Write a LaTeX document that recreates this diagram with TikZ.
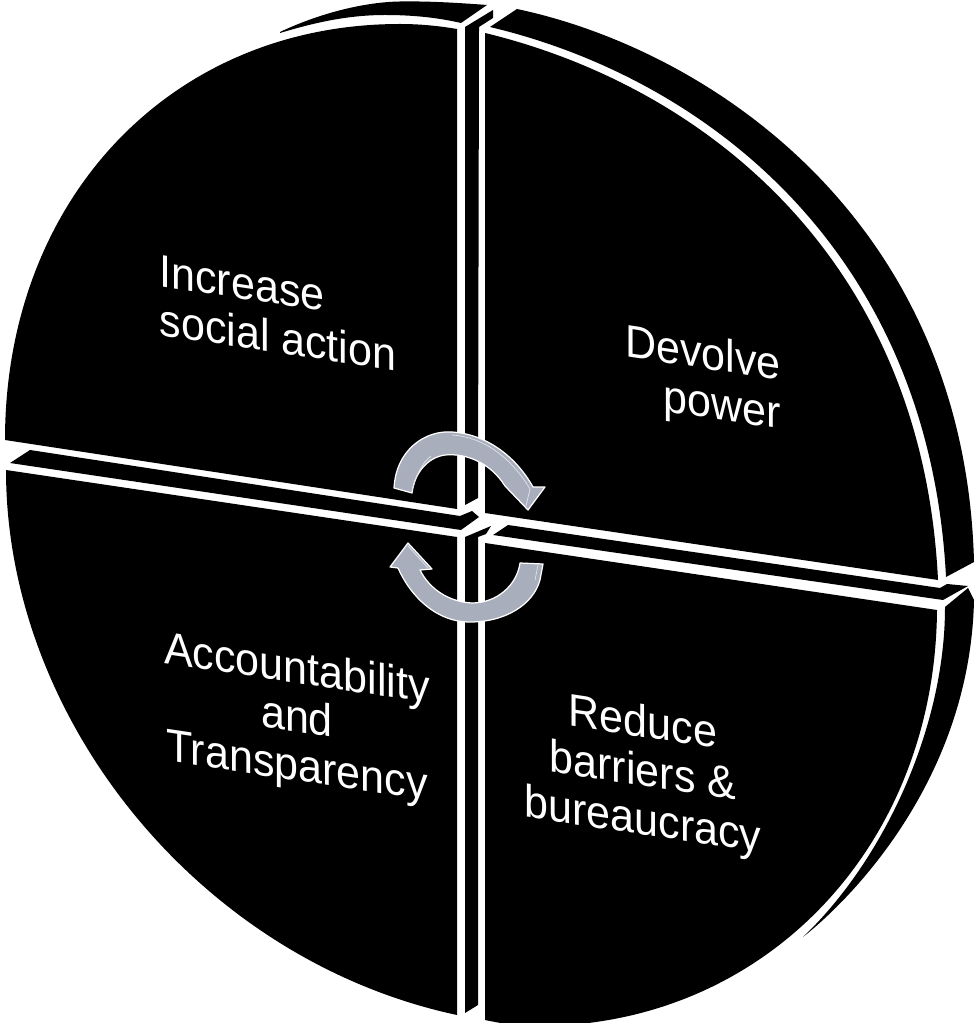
\documentclass[tikz,border=0pt]{standalone}
\usepackage{fontspec}
\setmainfont{Liberation Sans}
\definecolor{arrowgray}{HTML}{A9AEBD}
\tikzset{
  seg/.style={fill=black,draw=none},
  arrowshape/.style={fill=arrowgray,draw=white,line width=0.7pt,line join=round},
  ridge/.style={draw=arrowgray!35!white,line width=0.4pt},
  label/.style={text=white,inner sep=0pt,yslant=-0.15,yscale=1.06,font=\fontsize{24.5}{26.2}\selectfont}
}
\begin{document}
\begin{tikzpicture}[x=0.02cm,y=-0.02cm]
\useasboundingbox (0,0) rectangle (975,1023);
\clip (0,0) rectangle (975,1023);
% top-left quadrant
\path[seg] (5,440) .. controls (5,199) and (171,24) .. (400,24) .. controls (425,24) and (445,27) .. (457,29) -- (457,509) -- cycle;
\path[seg] (280,32) .. controls (320,13) and (365,2) .. (400,1.5) .. controls (430,1) and (460,3) .. (487,5) -- (461,23) .. controls (435,17) and (410,15) .. (385,15) .. controls (345,15) and (310,24) .. (280,33) -- cycle;
\path[seg] (465,27) -- (493,10) -- (493,18) -- (479,27) -- (478,498) -- (465,505) -- cycle;
\path[seg] (30,450) -- (460,516) -- (472,511) -- (479,517) -- (461,530) -- (10,463) -- cycle;
% top-right quadrant
\path[seg] (485,33) .. controls (700,85) and (922,255) .. (938,580) -- (485,513) -- cycle;
\path[seg] (517,9) .. controls (710,50) and (965,220) .. (974,562) -- (946,577) .. controls (929,250) and (705,78) .. (490,27) -- cycle;
\path[seg] (508,525) -- (940,588) -- (947,584) -- (968,586) -- (943,600) -- (493,535) -- cycle;
% bottom-right quadrant
\path[seg] (485,543) -- (937,610) .. controls (935,850) and (760,1030) .. (530,1026) .. controls (515,1026) and (500,1023) .. (485,1020) -- cycle;
\path[seg] (945,607) .. controls (945,730) and (882,862) .. (803,937) .. controls (850,900) and (970,780) .. (974,600) -- (968,588) -- cycle;
% bottom-left quadrant
\path[seg] (6,470) .. controls (6,720) and (200,960) .. (457,1015) -- (457,537) -- cycle;
\path[seg] (465,537) -- (491,526) -- (486,534) -- (478,537) -- (478,1005) -- (465,1013) -- cycle;
% arrows
\path[arrowshape] (394,488) .. controls (396,450) and (425,430) .. (452,432) .. controls (485,434) and (515,455) .. (533,487) -- (545,487) -- (528,510) -- (505,486) .. controls (490,462) and (465,453) .. (445,455) .. controls (430,457) and (415,470) .. (412,493) -- cycle;
\draw[ridge] (412,491) .. controls (416,475) and (422,463) .. (431,456);
\draw[ridge] (452,435) .. controls (483,437) and (511,457) .. (530,489) -- (526,506);
\path[arrowshape] (390,567) -- (408,543) -- (432,569) -- (420,570) .. controls (430,590) and (450,602) .. (472,603) .. controls (497,603) and (517,585) .. (520,563) -- (543,564) -- (540,580) .. controls (533,605) and (505,622) .. (470,622) .. controls (435,622) and (410,595) .. (398,568) -- cycle;
\draw[ridge] (538,565) -- (535,580);
\draw[ridge] (408,546) -- (428,568);
% labels
\node[label,align=left] (inc) at (278,313) {Increase\\social action};
\node[label,align=right] (dev) at (703,381) {Devolve\\power};
\node[label,align=center] (acc) at (297,720) {Accountability\\and\\Transparency};
\node[label,align=center] (red) at (643,774) {Reduce\\barriers \&\\bureaucracy};
\end{tikzpicture}
\end{document}
